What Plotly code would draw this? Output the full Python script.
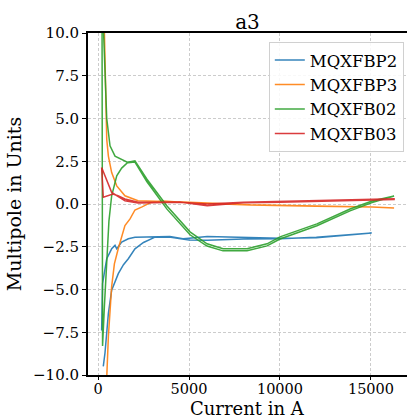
import plotly.graph_objects as go

# ---- data (current in A, multipole in units) ----
names = ["MQXFBP2", "MQXFBP3", "MQXFB02", "MQXFB03"]
colors = ["#1f77b4", "#ff7f0e", "#2ca02c", "#d62728"]

bp2_up_I = [290, 385, 570, 750, 1115, 1400, 1665, 1850, 2030, 2500, 3130, 4000, 5000, 6000, 8000, 10000, 12000, 15040]
bp2_up_v = [-9.5, -8.7, -6.4, -5.04, -4.07, -3.55, -3.2, -2.9, -2.62, -2.25, -1.94, -1.95, -2.1, -2.12, -2.05, -2.03, -1.95, -1.69]
bp2_dn_I = [15040, 12000, 10000, 8000, 6000, 5000, 4670, 3950, 3130, 2030, 1665, 1300, 1030, 935, 750, 480, 250, 210, 200]
bp2_dn_v = [-1.69, -1.98, -2.0, -1.95, -1.9, -2.0, -2.03, -1.9, -1.9, -1.94, -2.03, -2.23, -2.62, -2.42, -2.62, -3.2, -4.65, -6.8, -7.4]

bp3_up_I = [300, 480, 570, 750, 900, 1115, 1480, 1760, 2030, 2420, 2970, 3570, 5000, 8350, 10000, 12000, 15060, 16270]
bp3_up_v = [-15, -9.9, -7.73, -4.83, -3.5, -2.6, -1.26, -0.87, -0.35, -0.17, 0.12, 0.17, 0.08, -0.06, -0.1, -0.13, -0.17, -0.23]
bp3_dn_I = [16270, 15060, 12000, 10000, 8350, 5000, 3130, 2200, 1480, 1030, 750, 570, 480, 410, 330, 250]
bp3_dn_v = [-0.23, -0.17, -0.12, -0.08, -0.05, 0.1, 0.16, 0.19, 0.48, 1.06, 1.84, 2.8, 3.78, 6.1, 10, 15]

b02_up_I = [200, 250, 350, 480, 600, 750, 1030, 1300, 1650, 2030, 2690, 3790, 5055, 5990, 6870, 8190, 9290, 10000, 12030, 13850, 15060, 16270]
b02_up_v = [25, -8.3, -6.0, -3.2, -1.0, 0.48, 1.65, 2.1, 2.44, 2.52, 1.45, -0.12, -1.63, -2.33, -2.62, -2.62, -2.33, -1.92, -1.16, -0.29, 0.17, 0.47]
b02_dn_I = [16270, 15060, 13850, 12030, 10000, 9290, 8190, 6870, 5990, 5055, 3790, 2690, 2030, 1665, 935, 660, 480, 385, 290]
b02_dn_v = [0.47, 0.08, -0.4, -1.27, -2.05, -2.45, -2.74, -2.74, -2.46, -1.8, -0.3, 1.3, 2.45, 2.42, 2.8, 3.4, 5.0, 7.7, 10.5]

b03_up_I = [200, 290, 820, 1100, 1480, 2200, 3000, 4500, 6000, 8000, 10000, 12000, 15060, 16270]
b03_up_v = [2.13, 0.39, 0.58, 0.48, 0.29, 0.1, 0.1, 0.12, -0.1, 0.08, 0.1, 0.15, 0.22, 0.26]
b03_dn_I = [16270, 15060, 12000, 10000, 8000, 6000, 5000, 4500, 3000, 2200, 1480, 750, 200]
b03_dn_v = [0.3, 0.27, 0.2, 0.14, 0.1, 0.0, 0.05, 0.1, 0.08, 0.06, 0.19, 0.68, 2.13]

y_ticks = [10.0, 7.5, 5.0, 2.5, 0.0, -2.5, -5.0, -7.5, -10.0]
x_ticks = [0, 5000, 10000, 15000]

series = [
    (bp2_up_I + bp2_dn_I, bp2_up_v + bp2_dn_v),
    (bp3_up_I + bp3_dn_I, bp3_up_v + bp3_dn_v),
    (b02_up_I + b02_dn_I, b02_up_v + b02_dn_v),
    (b03_up_I + b03_dn_I, b03_up_v + b03_dn_v),
]

FONT = "DejaVu Serif"
fig = go.Figure()
for (xs, ys), n, c in zip(series, names, colors):
    fig.add_trace(go.Scatter(x=xs, y=ys, mode="lines", name=n,
                             line=dict(color=c, width=1.5), opacity=0.9))

fig.update_layout(
    width=407, height=419,
    margin=dict(l=88, r=0, t=33, b=44),
    paper_bgcolor="white", plot_bgcolor="white",
    font=dict(family=FONT, size=15, color="black"),
    title=dict(text="a3", x=0.5, xref="paper", xanchor="center",
               y=1 - 22 / 419, yref="container", yanchor="middle",
               font=dict(family=FONT, size=20, color="black")),
    showlegend=True,
    legend=dict(x=0.99, xanchor="right", y=0.974, yanchor="top",
                bgcolor="rgba(255,255,255,0.85)", bordercolor="#d0d0d0", borderwidth=1,
                font=dict(family=FONT, size=16.5, color="black"),
                itemwidth=30, tracegroupgap=0),
    annotations=[dict(text="Current in A", xref="paper", yref="paper",
                      x=0.5, y=-(408 - 375) / 342, xanchor="center", yanchor="middle",
                      showarrow=False, font=dict(family=FONT, size=18, color="black"))],
)
fig.update_xaxes(range=[-550, 16980], tickvals=x_ticks, ticktext=[str(t) for t in x_ticks],
                 showline=True, linecolor="black", linewidth=2, mirror=True,
                 ticks="outside", ticklen=3, tickcolor="black", tickwidth=1,
                 ticklabelstandoff=-3,
                 tickfont=dict(family=FONT, size=14.5),
                 showgrid=True, gridcolor="#cccccc", gridwidth=1, griddash="3px,2px",
                 zeroline=False)
fig.update_yaxes(range=[-10, 10], tickvals=y_ticks, ticktext=[("\u2212" if t < 0 else "") + f"{abs(t):.1f}" for t in y_ticks],
                 showline=True, linecolor="black", linewidth=2,
                 ticks="outside", ticklen=4, tickcolor="black", tickwidth=1,
                 tickfont=dict(family=FONT, size=15),
                 showgrid=True, gridcolor="#cccccc", gridwidth=1, griddash="3px,2px",
                 zeroline=False,
                 title=dict(text="Multipole in Units", font=dict(family=FONT, size=19), standoff=6))

fig.write_html("out.html")
